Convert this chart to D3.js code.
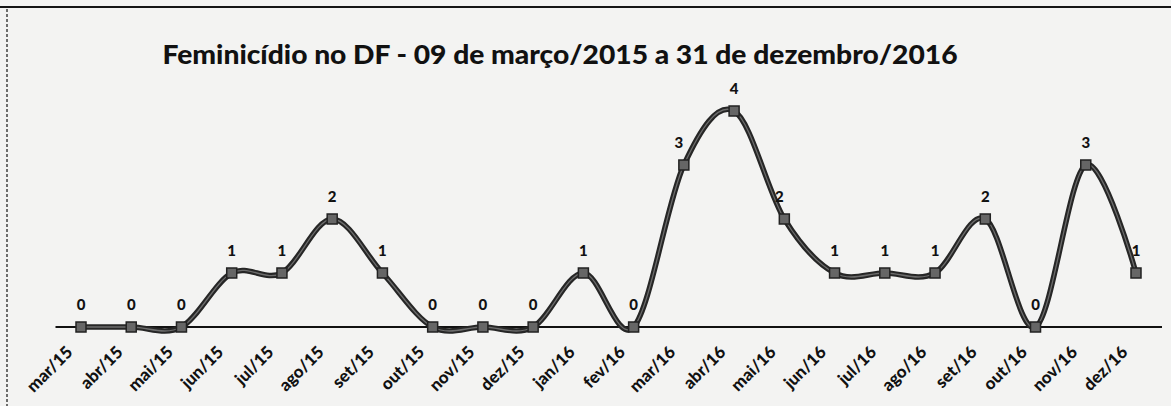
<!DOCTYPE html>
<html>
<head>
<meta charset="utf-8">
<script src="https://cdn.jsdelivr.net/npm/d3@7"></script>
<style>
  html, body { margin: 0; padding: 0; background: #f3f3f2; overflow: hidden; }
  svg { display: block; }
</style>
</head>
<body>
<script>
// meses e casos de feminicídio
const months = ['mar/15','abr/15','mai/15','jun/15','jul/15','ago/15','set/15','out/15','nov/15','dez/15','jan/16',
  'fev/16','mar/16','abr/16','mai/16','jun/16','jul/16','ago/16','set/16','out/16','nov/16','dez/16']
const cases = [0,0,0,1,1,2,1,0,0,0,1,0,3,4,2,1,1,1,2,0,3,1]
const title = 'Feminicídio no DF - 09 de março/2015 a 31 de dezembro/2016'

const width = 1171, height = 406
const svg = d3.select('body').append('svg').attr('width', width).attr('height', height)

svg.append('rect').attr('width', width).attr('height', height).attr('fill', '#f3f3f2')

// borda do documento
svg.append('line').attr('x1', 0).attr('x2', width).attr('y1', 7).attr('y2', 7)
  .attr('stroke', '#151515').attr('stroke-width', 2)
svg.append('line').attr('x1', 7).attr('x2', 7).attr('y1', 9).attr('y2', height)
  .attr('stroke', '#333').attr('stroke-width', 1.4).attr('stroke-dasharray', '3,2')

const x = d3.scalePoint().domain(months).range([81, 1136])
const y = d3.scaleLinear().domain([0, 4]).range([327, 111])

svg.append('text')
  .attr('x', 560).attr('y', 64)
  .attr('text-anchor', 'middle')
  .attr('font-family', 'Lato, "Open Sans", sans-serif')
  .attr('font-weight', 900)
  .attr('font-size', 26)
  .attr('fill', '#111')
  .attr('textLength', 795).attr('lengthAdjust', 'spacingAndGlyphs')
  .text(title)

// eixo x
const xAxis = d3.axisBottom(x).tickSize(0).tickPadding(0)
const gx = svg.append('g').attr('transform', `translate(0,${y(0)})`).call(xAxis)
gx.select('.domain').attr('d', 'M55.5,0H1162').attr('stroke', '#111').attr('stroke-width', 2)
gx.selectAll('.tick text')
  .attr('font-family', 'Lato, "Open Sans", sans-serif')
  .attr('font-weight', 900)
  .attr('font-size', 17)
  .attr('fill', '#111')
  .attr('text-anchor', 'end')
  .attr('dy', '0.35em')
  .attr('transform', 'translate(-12,22) rotate(-45)')

const pts = months.map((m, i) => ({m, v: cases[i]}))
const line = d3.line().x(d => x(d.m)).y(d => y(d.v)).curve(d3.curveCardinal.tension(0))

svg.append('path').datum(pts).attr('d', line)
  .attr('fill', 'none').attr('stroke', '#262626').attr('stroke-width', 5.5)
svg.append('path').datum(pts).attr('d', line)
  .attr('fill', 'none').attr('stroke', '#6c6c6c').attr('stroke-width', 1.3)

svg.append('g').selectAll('rect').data(pts).join('rect')
  .attr('x', d => x(d.m) - 5).attr('y', d => y(d.v) - 5)
  .attr('width', 10).attr('height', 10)
  .attr('fill', '#666').attr('stroke', '#222').attr('stroke-width', 1.5)

svg.append('g').selectAll('text').data(pts).join('text')
  .attr('x', d => x(d.m) + (d.m === 'mar/16' || d.m === 'mai/16' ? -5 : 0))
  .attr('y', d => y(d.v) - 17)
  .attr('text-anchor', 'middle')
  .attr('font-family', 'Lato, "Open Sans", sans-serif')
  .attr('font-weight', 900)
  .attr('font-size', 15)
  .attr('fill', '#111')
  .text(d => d.v)
</script>
</body>
</html>
